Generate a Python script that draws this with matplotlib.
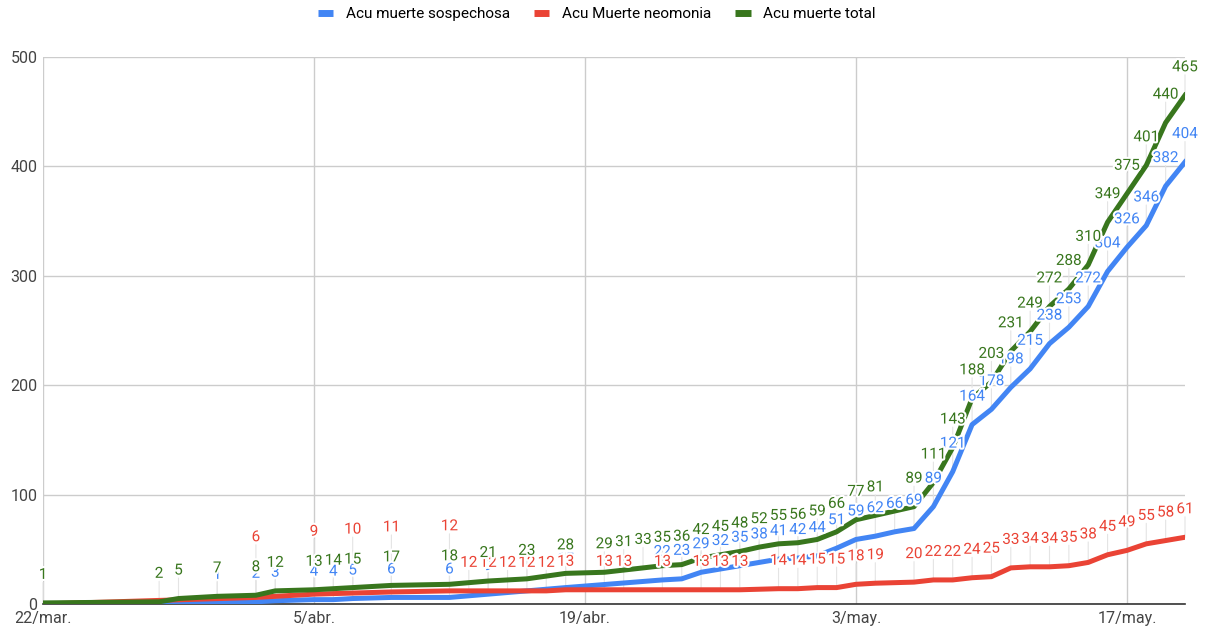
#!/usr/bin/env python3
import pandas as pd
import matplotlib

matplotlib.use("Agg")
import matplotlib.pyplot as plt
import matplotlib.dates as mdates
import matplotlib.patheffects as pe
from matplotlib.lines import Line2D

N = None

# one entry per day, 22/mar -> 20/may (None = no value shown that day)
fechas = pd.date_range("2020-03-22", "2020-05-20", freq="D")

sospechosa = [0, N, N, N, N, N, N, N, N, 1,
              N, 2, 3, N, 4, 4, 5, N, 6, N,
              N, 6, N, 9, N, N, N, 15, N, N,
              N, N, 22, 23, 29, 32, 35, 38, 41, 42,
              44, 51, 59, 62, 66, 69, 89, 121, 164, 178,
              198, 215, 238, 253, 272, 304, 326, 346, 382, 404]

neumonia = [0, N, N, N, N, N, N, N, N, N,
            N, 6, N, N, 9, N, 10, N, 11, N,
            N, 12, 12, 12, 12, 12, 12, 13, N, 13,
            13, N, 13, N, 13, 13, 13, N, 14, 14,
            15, 15, 18, 19, N, 20, 22, 22, 24, 25,
            33, 34, 34, 35, 38, 45, 49, 55, 58, 61]

total = [1, N, N, N, N, N, 2, 5, N, 7,
         N, 8, 12, N, 13, 14, 15, N, 17, N,
         N, 18, N, 21, N, 23, N, 28, N, 29,
         31, 33, 35, 36, 42, 45, 48, 52, 55, 56,
         59, 66, 77, 81, N, 89, 111, 143, 188, 203,
         231, 249, 272, 288, 310, 349, 375, 401, 440, 465]

nombres = ["Acu muerte sospechosa", "Acu Muerte neomonia", "Acu muerte total"]
colores = ["#4285F4", "#EA4335", "#38761D"]
xtick_labels = ["22/mar.", "5/abr.", "19/abr.", "3/may.", "17/may."]

plt.rcParams["font.family"] = ["Roboto", "DejaVu Sans"]

PX = 72 / 100  # points per pixel at dpi 100


def valid(vals):
    xs = [mdates.date2num(f) for f, v in zip(fechas, vals) if v is not None]
    ys = [v for v in vals if v is not None]
    return xs, ys


def place_labels(ax, vals, color, zorder, taken, push=False):
    """Writes value labels 28 px above each point, pushing up on collisions."""
    xs, ys = valid(vals)
    for xd, v in zip(xs, ys):
        if v == 0:
            continue
        px, py = ax.transData.transform((xd, v))
        w = 8.6 * len(str(v))
        h = 11
        dy = 28.0
        if push:
            moved = True
            while moved:
                moved = False
                for bx, by, bw in taken:
                    ox = min(px + w / 2, bx + bw / 2) - max(px - w / 2, bx - bw / 2)
                    oy = h - abs(py + dy - by)
                    if ox > 0 and oy > 0.35 * h:
                        dy = by + 30 - py
                        moved = True
        taken.append((px, py + dy, w))
        # leader line from the point to the label
        ax.annotate("", xy=(xd, v), xytext=(0, (dy - h / 2 - 2) * PX),
                    textcoords="offset points",
                    arrowprops=dict(arrowstyle="-", color="#e4e4e4", lw=0.8,
                                    shrinkA=0, shrinkB=0),
                    zorder=1)
        ax.annotate(str(v), xy=(xd, v), xytext=(0, dy * PX),
                    textcoords="offset points", ha="center", va="center",
                    fontsize=11, color=color, zorder=zorder,
                    path_effects=[pe.withStroke(linewidth=3, foreground="white")])


fig = plt.figure(figsize=(12.08, 6.3), dpi=100)
ax = fig.add_axes([43 / 1208, 26 / 630, (1185 - 43) / 1208, (604 - 57) / 630])

ax.set_xlim(mdates.date2num(fechas[0]), mdates.date2num(fechas[-1]))
ax.set_ylim(0, 500)
ax.set_autoscale_on(False)

for vals, col, z in zip([sospechosa, neumonia, total], colores, [3, 4, 5]):
    xs, ys = valid(vals)
    ax.plot(xs, ys, color=col, lw=3.6, zorder=z, solid_joinstyle="round")

taken = []
place_labels(ax, total, colores[2], 9, taken)
place_labels(ax, neumonia, colores[1], 8, taken, push=True)
place_labels(ax, sospechosa, colores[0], 7, [])

ax.set_xticks([mdates.date2num(f) for f in fechas[::14]])
ax.set_xticklabels(xtick_labels)
ax.set_yticks(range(0, 501, 100))
ax.grid(True, color="#cccccc", lw=1)
ax.set_axisbelow(True)
for s in ["top", "right", "left"]:
    ax.spines[s].set_visible(False)
ax.spines["bottom"].set_color("#333333")
ax.spines["bottom"].set_linewidth(1.2)
ax.tick_params(length=0, labelsize=11.5, colors="#444444")
ax.tick_params(axis="y", pad=4)
ax.tick_params(axis="x", pad=5)

handles = [Line2D([], [], color=c, lw=5, solid_capstyle="butt") for c in colores]
fig.legend(handles, nombres, loc="center", bbox_to_anchor=(0.494, 0.978),
           ncol=3, frameon=False, fontsize=11, handlelength=1.0,
           handletextpad=0.8, columnspacing=1.6)

plt.savefig("out.png", dpi=100)
plt.close()
